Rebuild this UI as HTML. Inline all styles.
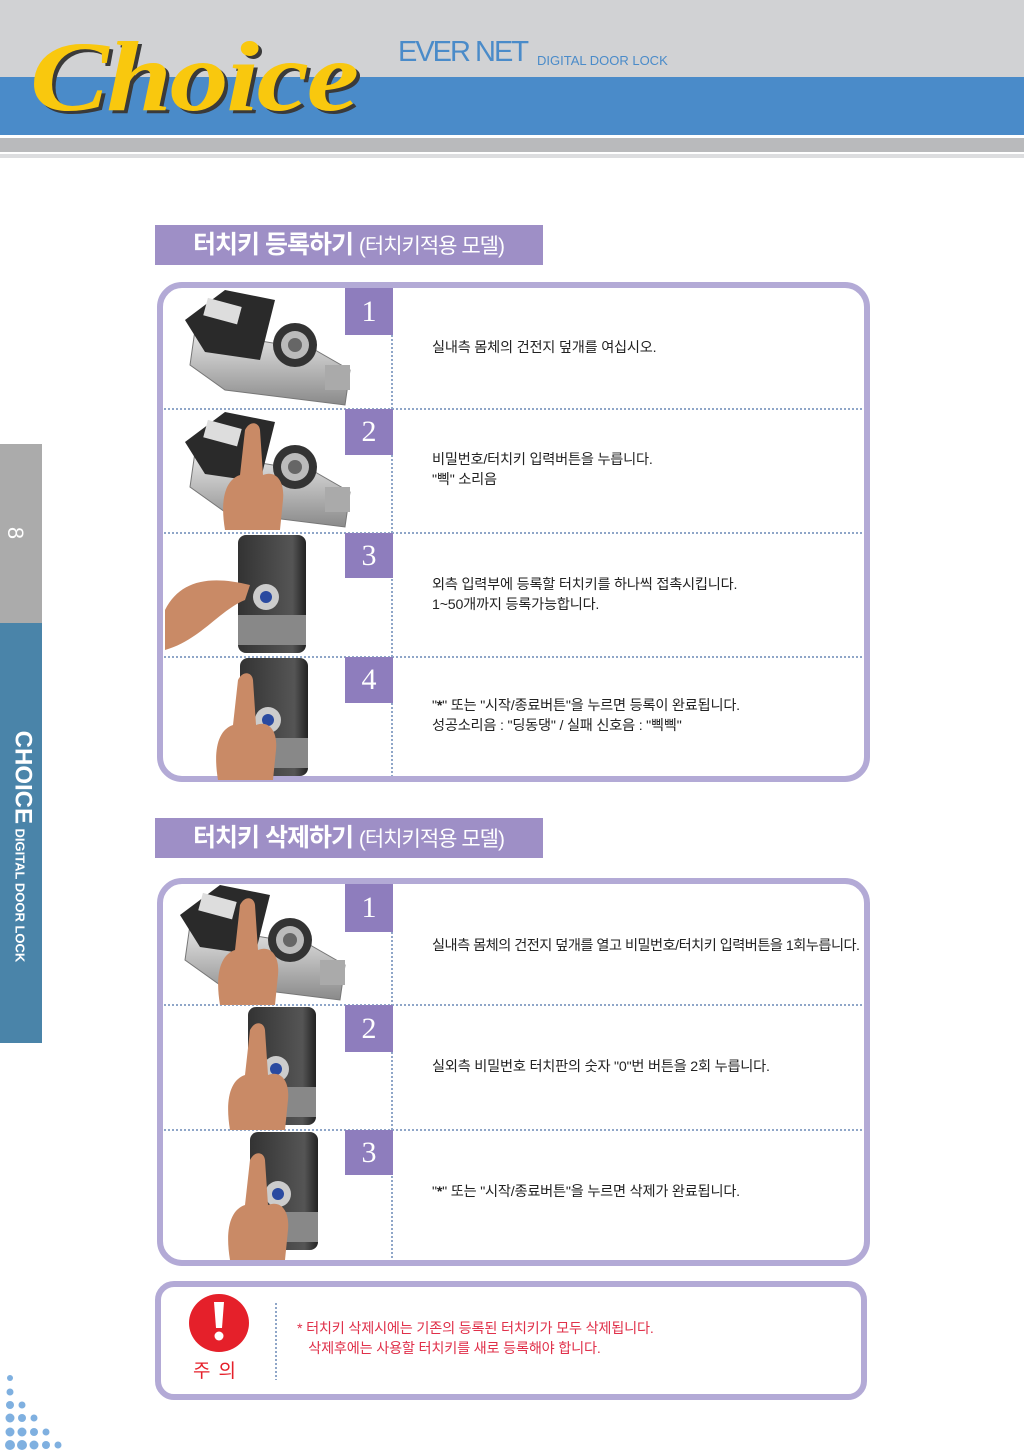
<!DOCTYPE html>
<html><head><meta charset="utf-8">
<style>
*{margin:0;padding:0}
body{width:1024px;height:1456px;position:relative;background:#fff;overflow:hidden;font-family:"Liberation Sans","Noto Sans CJK KR",sans-serif}
.t{position:absolute;font-size:14.2px;color:#222;line-height:20px;white-space:nowrap;letter-spacing:-0.2px}
.n{position:absolute;width:48px;color:#fff;font-family:"Liberation Serif",serif;font-size:30px;text-align:center;background:#8e7dbd}
.h{position:absolute;left:155px;width:388px;height:40px;background:#9e8fc6;color:#fff;font-size:25px;font-weight:bold;line-height:40px;padding-left:38px;box-sizing:border-box;font-family:"Liberation Sans","Noto Sans CJK KR",sans-serif;letter-spacing:-1px}
.h span{font-size:21px;font-weight:normal}
svg{position:absolute;left:0;top:0}
</style></head><body>
<svg width="1024" height="1456" viewBox="0 0 1024 1456">
<defs>
<linearGradient id="sil" x1="0" y1="0" x2="0" y2="1"><stop offset="0" stop-color="#e8e8e8"/><stop offset="1" stop-color="#8a8a8a"/></linearGradient>
<linearGradient id="dk" x1="0" y1="0" x2="1" y2="0"><stop offset="0" stop-color="#333"/><stop offset="0.8" stop-color="#555"/><stop offset="1" stop-color="#222"/></linearGradient>
<g id="bodyA">
 <path d="M30 40 L150 60 L185 80 L180 115 L60 100 L25 75Z" fill="url(#sil)" stroke="#777"/>
 <path d="M20 30 L60 0 L110 10 L95 70 L40 62Z" fill="#2a2a2a"/>
 <rect x="40" y="12" width="35" height="18" fill="#ddd" transform="rotate(15 57 21)"/>
 <circle cx="130" cy="55" r="22" fill="#333"/><circle cx="130" cy="55" r="14" fill="#bbb"/><circle cx="130" cy="55" r="7" fill="#666"/>
 <rect x="160" y="75" width="25" height="25" fill="#aaa"/>
</g>
<g id="bodyB">
 <rect x="0" y="0" width="68" height="118" rx="8" fill="url(#dk)"/>
 <rect x="0" y="80" width="68" height="30" fill="#888"/>
 <circle cx="28" cy="62" r="13" fill="#ccc"/><circle cx="28" cy="62" r="6" fill="#2a4aa0"/>
</g>
<path id="hand" d="M0 0 C5 -10 14 -8 15 0 L18 45 C30 40 40 50 38 70 L35 100 L-20 100 C-25 70 -20 50 -5 45Z" fill="#c98a66"/>
</defs>
<rect x="0" y="0" width="1024" height="77" fill="#d1d2d4"/>
<rect x="0" y="77" width="1024" height="58" fill="#4a8bc9"/>
<rect x="0" y="138" width="1024" height="14" fill="#b9babc"/>
<rect x="0" y="154" width="1024" height="4" fill="#dcdddf"/>
<rect x="0" y="444" width="42" height="179" fill="#ababab"/>
<rect x="0" y="623" width="42" height="420" fill="#4a84a9"/>
<g fill="#7fb0e0">
<circle cx="10" cy="1445" r="5"/><circle cx="22" cy="1445" r="5"/><circle cx="34" cy="1445" r="4.5"/><circle cx="46" cy="1445" r="4"/><circle cx="10" cy="1432" r="4.5"/><circle cx="22" cy="1432" r="4.5"/><circle cx="34" cy="1432" r="4"/><circle cx="10" cy="1418" r="4.5"/><circle cx="22" cy="1418" r="4"/><circle cx="10" cy="1405" r="4"/><circle cx="22" cy="1405" r="3.5"/><circle cx="10" cy="1392" r="3.5"/><circle cx="10" cy="1378" r="3"/><circle cx="58" cy="1445" r="3.5"/><circle cx="46" cy="1432" r="3.5"/><circle cx="34" cy="1418" r="3.5"/>
</g>
<rect x="160" y="285" width="707" height="494" rx="22" fill="#fff" stroke="#b3aad6" stroke-width="6"/>
<rect x="160" y="881" width="707" height="382" rx="22" fill="none" stroke="#b3aad6" stroke-width="6"/>
<rect x="158" y="1284" width="706" height="113" rx="16" fill="none" stroke="#b3aad6" stroke-width="6"/>
<g stroke="#8fa6c8" stroke-width="2" stroke-dasharray="2 2">
<line x1="392" y1="335" x2="392" y2="776"/>
<line x1="164" y1="409" x2="863" y2="409"/><line x1="164" y1="533" x2="863" y2="533"/><line x1="164" y1="657" x2="863" y2="657"/>
<line x1="392" y1="932" x2="392" y2="1259"/>
<line x1="164" y1="1005" x2="863" y2="1005"/><line x1="164" y1="1130" x2="863" y2="1130"/>
<line x1="276" y1="1303" x2="276" y2="1380"/>
</g>
<use href="#bodyA" x="165" y="290"/>
<use href="#bodyA" x="165" y="412"/>
<use href="#hand" x="245" y="430"/>
<use href="#bodyB" x="238" y="535"/>
<path d="M165 610 C180 580 210 575 250 585 L245 600 C220 610 200 640 165 650Z" fill="#c98a66"/>
<use href="#bodyB" x="240" y="658"/>
<use href="#hand" x="238" y="680"/>
<use href="#bodyA" x="160" y="885"/>
<use href="#hand" x="240" y="905"/>
<use href="#bodyB" x="248" y="1007"/>
<use href="#hand" x="250" y="1030"/>
<use href="#bodyB" x="250" y="1132"/>
<use href="#hand" x="250" y="1160"/>
<ellipse cx="219" cy="1323" rx="30" ry="29" fill="#e5202a"/>
<path d="M214 1302 h10 l-2 26 h-6z" fill="#fff"/><circle cx="219" cy="1336" r="4.5" fill="#fff"/>
</svg>

<div style="position:absolute;left:30px;top:22px;font-family:'Liberation Serif',serif;font-style:italic;font-weight:bold;font-size:100px;color:#f9c80e;text-shadow:3px 3px 0 #3a3a3a;letter-spacing:-2px;line-height:110px;transform:scaleX(1.18);transform-origin:0 0">Choice</div>
<div style="position:absolute;left:398px;top:36px;font-size:29px;color:#4a8bc9;letter-spacing:-2px;line-height:32px">EVER NET</div>
<div style="position:absolute;left:537px;top:53px;font-size:13px;color:#4a8bc9;line-height:16px">DIGITAL DOOR LOCK</div>
<div style="position:absolute;left:9px;top:522px;font-size:22px;color:#fff;transform:rotate(90deg);line-height:22px">8</div>
<div style="position:absolute;left:21px;top:833px;width:240px;margin-left:-120px;text-align:center;transform:rotate(90deg);color:#fff;font-weight:bold;line-height:24px;white-space:nowrap"><span style="font-size:24px">CHOICE</span> <span style="font-size:13px">DIGITAL DOOR LOCK</span></div>

<div class="h" style="top:225px">터치키 등록하기 <span>(터치키적용 모델)</span></div>
<div class="h" style="top:818px">터치키 삭제하기 <span>(터치키적용 모델)</span></div>

<div class="n" style="left:345px;top:288px;height:47px;line-height:47px">1</div>
<div class="n" style="left:345px;top:409px;height:46px;line-height:46px">2</div>
<div class="n" style="left:345px;top:533px;height:45px;line-height:45px">3</div>
<div class="n" style="left:345px;top:657px;height:46px;line-height:46px">4</div>
<div class="n" style="left:345px;top:884px;height:48px;line-height:48px">1</div>
<div class="n" style="left:345px;top:1005px;height:47px;line-height:47px">2</div>
<div class="n" style="left:345px;top:1130px;height:45px;line-height:45px">3</div>

<div class="t" style="left:432px;top:338px">실내측 몸체의 건전지 덮개를 여십시오.</div>
<div class="t" style="left:432px;top:450px">비밀번호/터치키 입력버튼을 누릅니다.<br>"삑" 소리음</div>
<div class="t" style="left:432px;top:575px">외측 입력부에 등록할 터치키를 하나씩 접촉시킵니다.<br>1~50개까지 등록가능합니다.</div>
<div class="t" style="left:432px;top:696px">"<b>*</b>" 또는 "시작/종료버튼"을 누르면 등록이 완료됩니다.<br>성공소리음 : "딩동댕" / 실패 신호음 : "삑삑"</div>
<div class="t" style="left:432px;top:936px;letter-spacing:-0.5px">실내측 몸체의 건전지 덮개를 열고 비밀번호/터치키 입력버튼을 1회누릅니다.</div>
<div class="t" style="left:432px;top:1057px">실외측 비밀번호 터치판의 숫자 "0"번 버튼을 2회 누릅니다.</div>
<div class="t" style="left:432px;top:1182px">"<b>*</b>" 또는 "시작/종료버튼"을 누르면 삭제가 완료됩니다.</div>

<div style="position:absolute;left:193px;top:1360px;font-size:19px;color:#e5202a;letter-spacing:8px;line-height:24px">주의</div>
<div class="t" style="left:297px;top:1319px;color:#e0304a">* 터치키 삭제시에는 기존의 등록된 터치키가 모두 삭제됩니다.<br>&nbsp;&nbsp;&nbsp;삭제후에는 사용할 터치키를 새로 등록해야 합니다.</div>
</body></html>
